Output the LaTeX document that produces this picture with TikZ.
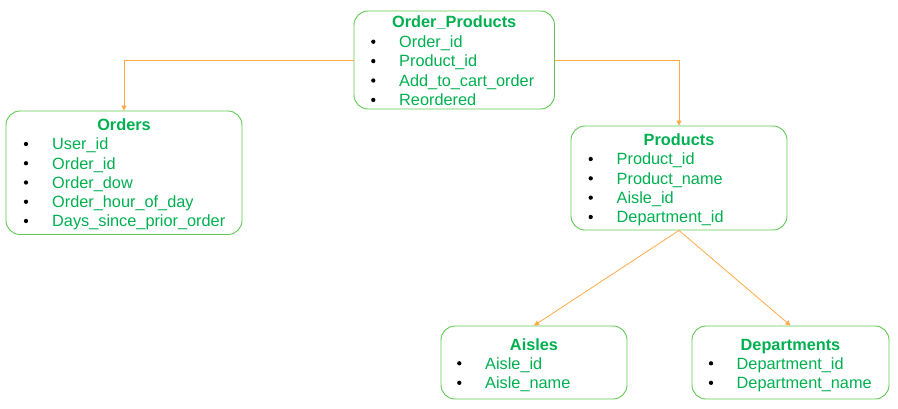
\documentclass[tikz,border=0pt]{standalone}
\usepackage{fontspec}
\setmainfont{Liberation Sans}
\usetikzlibrary{arrows.meta}
\definecolor{boxgreen}{RGB}{95,200,80}
\definecolor{txtgreen}{RGB}{0,176,80}
\definecolor{linkorange}{RGB}{255,170,70}
\tikzset{
  tbox/.style={draw=boxgreen, line width=0.9pt, rounded corners=14pt, inner sep=0pt},
  ttl/.style={font=\fontsize{16.3}{19}\selectfont\bfseries, text=txtgreen, anchor=base, inner sep=0pt},
  itm/.style={font=\fontsize{16.3}{19}\selectfont, text=txtgreen, anchor=base west, inner sep=0pt},
  bul/.style={circle, fill=black, inner sep=0pt, minimum size=4.3pt},
  link/.style={draw=linkorange, line width=0.8pt, -{Triangle[length=5pt,width=5pt]}},
}
\begin{document}
\begin{tikzpicture}[x=1pt,y=-1pt]
\useasboundingbox (0,0) rectangle (898,408);
% Order_Products
\node[tbox, minimum width=200.5pt, minimum height=98pt] (op) at (454.25,60) {};
\node[ttl] (opt) at (454.25,27.5) {Order\_Products};
\foreach \t [count=\i] in {Order\_id,Product\_id,Add\_to\_cart\_order,Reordered}{
  \node[bul] (opb\i) at (373.3,{41.7+19.4*(\i-1)}) {};
  \node[itm] (op\i) at (399,{47.5+19.4*(\i-1)}) {\t};
}
% Orders
\node[tbox, minimum width=236pt, minimum height=123.5pt] (ord) at (124,172.75) {};
\node[ttl] (ordt) at (124,130.5) {Orders};
\foreach \t [count=\i] in {User\_id,Order\_id,Order\_dow,Order\_hour\_of\_day,Days\_since\_prior\_order}{
  \node[bul] (ordb\i) at (26,{144+19.25*(\i-1)}) {};
  \node[itm] (ord\i) at (52,{149.8+19.25*(\i-1)}) {\t};
}
% Products
\node[tbox, minimum width=216pt, minimum height=104pt] (prod) at (679,178) {};
\node[ttl] (prodt) at (679,145.5) {Products};
\foreach \t [count=\i] in {Product\_id,Product\_name,Aisle\_id,Department\_id}{
  \node[bul] (prodb\i) at (590.7,{159+19.33*(\i-1)}) {};
  \node[itm] (prod\i) at (616.5,{164.8+19.33*(\i-1)}) {\t};
}
% Aisles
\node[tbox, minimum width=186pt, minimum height=73pt] (ais) at (534,362.5) {};
\node[ttl] (aist) at (534,350.5) {Aisles};
\foreach \t [count=\i] in {Aisle\_id,Aisle\_name}{
  \node[bul] (aisb\i) at (459.3,{363.3+19.5*(\i-1)}) {};
  \node[itm] (ais\i) at (485,{369.1+19.5*(\i-1)}) {\t};
}
% Departments
\node[tbox, minimum width=197pt, minimum height=73pt] (dep) at (790.5,362.5) {};
\node[ttl] (dept) at (790.5,350.5) {Departments};
\foreach \t [count=\i] in {Department\_id,Department\_name}{
  \node[bul] (depb\i) at (711,{363.3+19.5*(\i-1)}) {};
  \node[itm] (dep\i) at (736.5,{369.1+19.5*(\i-1)}) {\t};
}
% connectors
\draw[link] (op.west) -| (ord.north);
\draw[link] (op.east) -| (prod.north);
\draw[link] (prod.south) -- (ais.north);
\draw[link] (prod.south) -- (dep.north);
\end{tikzpicture}
\end{document}
